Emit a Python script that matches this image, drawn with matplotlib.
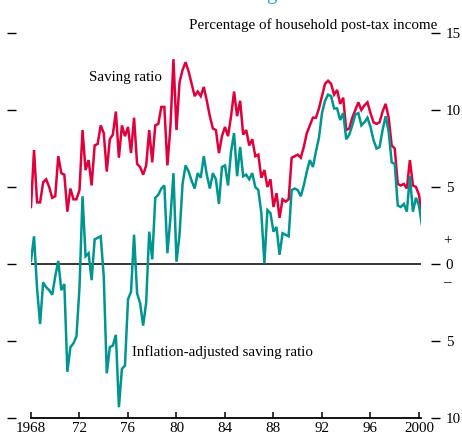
import numpy as np
import matplotlib
matplotlib.use("Agg")
import matplotlib.pyplot as plt

# ---- data (quarterly, 1968Q1 onwards) ----
start_year = 1968
saving_ratio = [
    3.7, 7.4, 4.0, 4.0, 5.3, 5.5, 5.0, 4.3, 4.4, 7.0,
    5.9, 5.8, 3.4, 4.9, 4.2, 4.2, 4.8, 8.7, 6.1, 6.75,
    5.1, 7.7, 7.8, 9.0, 8.5, 6.0, 8.1, 8.4, 9.9, 6.9,
    9.0, 8.3, 8.9, 7.2, 9.5, 6.5, 6.3, 5.8, 6.4, 8.7,
    6.6, 9.0, 9.1, 10.2, 10.2, 6.4, 8.9, 13.3, 8.7, 11.8,
    12.6, 13.1, 12.5, 11.7, 10.9, 11.2, 10.9, 11.5, 10.6, 9.6,
    8.8, 8.7, 7.2, 8.3, 8.9, 8.3, 9.6, 11.2, 9.6, 10.6,
    8.4, 8.7, 7.7, 8.1, 7.0, 7.1, 5.6, 6.1, 5.0, 5.5,
    3.7, 4.6, 3.0, 4.2, 4.05, 4.2, 6.9, 7.0, 7.1, 6.9,
    7.6, 8.5, 9.0, 9.5, 9.5, 10.1, 10.9, 11.7, 11.9, 11.7,
    11.0, 11.3, 10.4, 10.8, 8.7, 8.8, 9.5, 10.0, 10.5, 10.0,
    10.3, 10.5, 9.8, 9.2, 9.1, 9.2, 9.9, 10.4, 9.5, 7.7,
    7.5, 5.2, 5.1, 5.2, 4.9, 6.75, 5.1, 5.0, 4.5, 3.1,
]
inflation_adjusted = [
    0.2, 1.8, -1.6, -3.9, -1.2, -1.5, -1.7, -2.0, -0.8, 0.2,
    -1.7, -1.3, -7.0, -5.4, -5.15, -4.7, -1.5, 4.4, 0.5, 0.7,
    -1.05, 1.6, 1.7, 1.8, -0.8, -7.1, -5.4, -5.3, -4.6, -9.3,
    -6.8, -6.6, -2.3, -1.8, 1.9, -1.9, -2.55, -4.0, -2.5, 2.1,
    0.3, 4.3, 4.5, 4.9, 5.1, 0.7, 3.0, 5.9, 0.15, 1.9,
    5.2, 6.4, 6.0, 5.4, 4.9, 5.9, 5.6, 7.0, 5.8, 4.9,
    5.9, 5.5, 3.9, 6.3, 6.4, 5.1, 7.3, 8.5, 5.7, 7.6,
    5.7, 5.8, 5.5, 5.9, 5.0, 4.8, 3.3, 0.05, 3.5, 3.3,
    2.1, 2.4, 0.6, 2.0, 1.9, 1.8, 4.8, 4.9, 4.8, 4.4,
    5.1, 6.0, 6.75, 6.3, 7.3, 8.2, 9.8, 10.6, 11.0, 10.9,
    10.1, 10.1, 9.35, 9.8, 8.1, 8.4, 9.0, 9.7, 9.8, 9.0,
    9.2, 9.5, 8.9, 8.05, 7.5, 7.6, 8.7, 9.6, 8.6, 6.6,
    6.5, 3.8, 3.7, 3.9, 3.4, 5.7, 3.4, 4.3, 3.8, 2.5,
]
xtick_years = [1968, 1972, 1976, 1980, 1984, 1988, 1992, 1996, 2000]
xtick_labels = ["1968", "72", "76", "80", "84", "88", "92", "96", "2000"]
ytick_values = [-10, -5, 0, 5, 10, 15]
ytick_labels = ["10", "5", "0", "5", "10", "15"]

RED = "#e2003c"
TEAL = "#00968f"
BLUE = "#2aa5de"
FONT = "Liberation Serif"
FS = 10.8

plt.rcParams["font.family"] = [FONT, "DejaVu Serif"]

W, H = 462, 437
fig = plt.figure(figsize=(W / 100, H / 100), dpi=100)
fig.patch.set_facecolor("white")


def fx(px):
    return px / W


def fy(py):
    return 1 - py / H


ax = fig.add_axes([fx(31), fy(418), (421.4 - 31) / W, (418 - 33) / H])

t = start_year + np.arange(len(saving_ratio)) / 4.0
ax.plot(t, saving_ratio, color=RED, lw=1.8, solid_joinstyle="miter", zorder=3)
ax.plot(t, inflation_adjusted, color=TEAL, lw=1.8, solid_joinstyle="miter", zorder=3)
ax.axhline(0, color="black", lw=1.1, zorder=2)

ax.set_xlim(1968, 2000.2)
ax.set_ylim(-10, 15)

ax.spines["top"].set_visible(False)
ax.spines["left"].set_position(("outward", 11))
ax.spines["left"].set_visible(False)
ax.spines["right"].set_position(("outward", 7))
ax.spines["right"].set_visible(False)
ax.spines["bottom"].set_linewidth(1.3)

ax.set_xticks(xtick_years)
ax.set_xticklabels(xtick_labels)
ax.tick_params(axis="x", direction="in", length=4.3, width=1.1, pad=3,
               labelsize=FS, color="black")

ax.set_yticks(ytick_values)
ax.set_yticklabels(ytick_labels)
ax.tick_params(axis="y", left=True, right=True, labelleft=False, labelright=True,
               direction="out", length=6.8, width=1.0, pad=3.6, labelsize=FS,
               color="black")

fig.text(fx(437), fy(25), "Percentage of household post-tax income",
         ha="right", va="center", fontsize=FS)
fig.text(fx(89), fy(78), "Saving ratio", ha="left", va="center", fontsize=FS)
fig.text(fx(132), fy(352), "Inflation-adjusted saving ratio",
         ha="left", va="center", fontsize=FS)
fig.text(fx(443), fy(241), "+", ha="left", va="center", fontsize=FS)
fig.text(fx(443), fy(283), "\u2013", ha="left", va="center", fontsize=FS)
# descender of the cut-off title at the very top edge
fig.text(fx(271), fy(-1.5), "g", ha="center", va="baseline", fontsize=15,
         color=BLUE)

fig.savefig("out.png", dpi=100, facecolor="white")
